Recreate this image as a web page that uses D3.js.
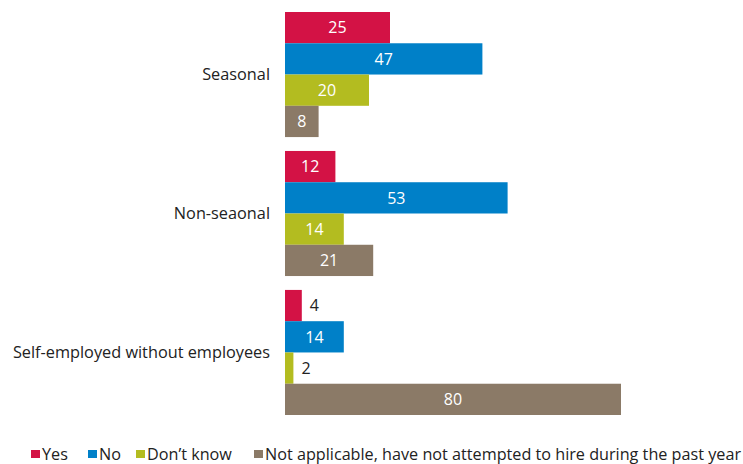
<!DOCTYPE html>
<html>
<head>
<meta charset="utf-8">
<script src="https://cdn.jsdelivr.net/npm/d3@7"></script>
<style>
	body { margin: 0; background: #fff; }
	text { font-family: "Open Sans", sans-serif; }
</style>
</head>
<body>
<svg id="chart" width="743" height="464"></svg>
<script>
var categories = ["Seasonal", "Non-seaonal", "Self-employed without employees"];
var series = ["Yes", "No", "Don\u2019t know", "Not applicable, have not attempted to hire during the past year"];
var yes_values = [25, 12, 4];
var no_values = [47, 53, 14];
var dontknow_values = [20, 14, 2];
var na_values = [8, 21, 80];
var colors = ["#d31245", "#0080c8", "#b3bc20", "#8b7a67"];

var all_values = [yes_values, no_values, dontknow_values, na_values];

var svg = d3.select("#chart");

var x = d3.scaleLinear()
	.domain([0, 80])
	.range([285, 621]);

var y0 = d3.scaleBand()
	.domain(categories)
	.range([12, 415])
	.paddingInner(0.1)
	.paddingOuter(0);

var y1 = d3.scaleBand()
	.domain(d3.range(series.length))
	.range([0, y0.bandwidth()]);

var groups = svg.selectAll(".group")
	.data(categories)
	.enter()
	.append("g")
	.attr("class", "group")
	.attr("transform", function(d) { return "translate(0," + y0(d) + ")"; });

groups.each(function(cat, ci) {
	var g = d3.select(this);
	var rows = all_values.map(function(vals, si) {
		return { s: si, v: vals[ci] };
	});

	g.selectAll("rect")
		.data(rows)
		.enter()
		.append("rect")
		.attr("x", x(0))
		.attr("y", function(d) { return y1(d.s); })
		.attr("width", function(d) { return x(d.v) - x(0); })
		.attr("height", y1.bandwidth())
		.attr("fill", function(d) { return colors[d.s]; });

	g.selectAll("text.val")
		.data(rows)
		.enter()
		.append("text")
		.attr("class", "val")
		.attr("x", function(d) {
			// small bars get the label outside
			return d.v < 6 ? x(d.v) + 8 : (x(0) + x(d.v)) / 2;
		})
		.attr("y", function(d) { return y1(d.s) + y1.bandwidth() / 2; })
		.attr("dy", "0.36em")
		.attr("text-anchor", function(d) { return d.v < 6 ? "start" : "middle"; })
		.attr("font-size", "16px")
		.attr("fill", function(d) { return d.v < 6 ? "#222" : "#fff"; })
		.text(function(d) { return d.v; });
});

// category labels
svg.selectAll(".cat")
	.data(categories)
	.enter()
	.append("text")
	.attr("class", "cat")
	.attr("x", 270)
	.attr("y", function(d) { return y0(d) + y0.bandwidth() / 2; })
	.attr("dy", "0.36em")
	.attr("text-anchor", "end")
	.attr("font-size", "16.3px")
	.attr("fill", "#222")
	.text(function(d) { return d; });

// legend
var legend_x = [31, 88, 136, 254];
var legend = svg.selectAll(".legend")
	.data(series)
	.enter()
	.append("g")
	.attr("class", "legend")
	.attr("transform", function(d, i) { return "translate(" + legend_x[i] + ",454)"; });

legend.append("rect")
	.attr("x", 0)
	.attr("y", -4)
	.attr("width", 9)
	.attr("height", 8)
	.attr("fill", function(d, i) { return colors[i]; });

legend.append("text")
	.attr("x", 11)
	.attr("y", 0)
	.attr("dy", "0.36em")
	.attr("font-size", "16.2px")
	.attr("fill", "#222")
	.text(function(d) { return d; });
</script>
</body>
</html>
